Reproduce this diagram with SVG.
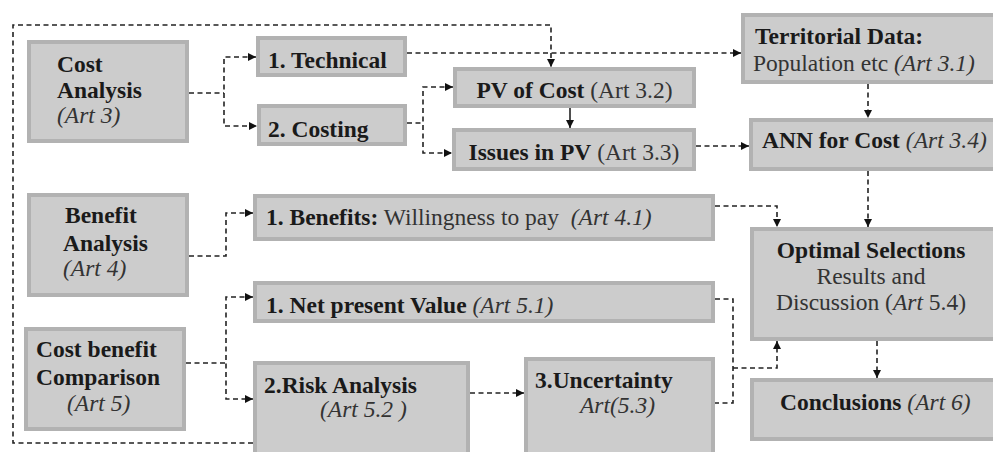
<svg xmlns="http://www.w3.org/2000/svg" width="993" height="452" viewBox="0 0 993 452">
<defs>
<marker id="ah" viewBox="0 0 10 10" refX="10" refY="5" markerWidth="9" markerHeight="8" markerUnits="userSpaceOnUse" orient="auto-start-reverse">
<path d="M0,0 L10,5 L0,10 z" fill="#111"/>
</marker>
<style>
.box{fill:#cccccc;stroke:#b2b2b2;stroke-width:4}
.c{fill:none;stroke:#222;stroke-width:1.6;stroke-dasharray:5,3.5}
.s{fill:none;stroke:#222;stroke-width:1.6}
text{font-family:"Liberation Serif","Times New Roman",serif;font-size:23.5px;fill:#1a1a1a}
.b{font-weight:bold}
.i{font-style:italic;fill:#333}
.r{fill:#333}
</style>
</defs>
<rect width="993" height="452" fill="#ffffff"/>
<g id="connectors">
<path class="c" d="M253,443 H13 V25 H551 V67" marker-end="url(#ah)"/>
<path class="c" d="M407,53 H741" marker-end="url(#ah)"/>
<path class="c" d="M189,93 H224"/>
<path class="c" d="M256,57 H224 V126 H257" marker-start="url(#ah)" marker-end="url(#ah)"/>
<path class="c" d="M407,123 H423"/>
<path class="c" d="M453,87 H423 V153 H452" marker-start="url(#ah)" marker-end="url(#ah)"/>
<path class="s" d="M570,108 V128" marker-end="url(#ah)"/>
<path class="c" d="M696,146 H749" marker-end="url(#ah)"/>
<path class="c" d="M868,84 V118" marker-end="url(#ah)"/>
<path class="c" d="M868,171 V227" marker-end="url(#ah)"/>
<path class="c" d="M715,206 H777 V227" marker-end="url(#ah)"/>
<path class="c" d="M189,256 H226 V213 H253" marker-end="url(#ah)"/>
<path class="c" d="M186,363 H226"/>
<path class="c" d="M253,297 H226 V399 H253" marker-start="url(#ah)" marker-end="url(#ah)"/>
<path class="c" d="M470,393 H524" marker-end="url(#ah)"/>
<path class="c" d="M715,299 H733 V403 H715"/>
<path class="c" d="M733,368 H777 V341" marker-end="url(#ah)"/>
<path class="c" d="M877,341 V378" marker-end="url(#ah)"/>
</g>
<g id="cost-analysis">
<rect class="box" x="29" y="42" width="158" height="99"/>
<text x="57" y="72" class="b">Cost</text>
<text x="57" y="98" class="b">Analysis</text>
<text x="57" y="123" class="i">(Art 3)</text>
</g>
<g id="technical">
<rect class="box" x="258" y="38" width="147" height="37"/>
<text x="268" y="68" class="b">1. Technical</text>
</g>
<g id="costing">
<rect class="box" x="259" y="106" width="146" height="38"/>
<text x="268" y="137" class="b">2. Costing</text>
</g>
<g id="pv-of-cost">
<rect class="box" x="455" y="69" width="239" height="37"/>
<text x="574.5" y="98" text-anchor="middle"><tspan class="b">PV of Cost</tspan><tspan class="r"> (Art 3.2)</tspan></text>
</g>
<g id="issues-in-pv">
<rect class="box" x="454" y="130" width="240" height="39"/>
<text x="574" y="160" text-anchor="middle"><tspan class="b">Issues in PV</tspan><tspan class="r"> (Art 3.3)</tspan></text>
</g>
<g id="territorial-data">
<rect class="box" x="743" y="15" width="252" height="67"/>
<text x="755" y="44" class="b">Territorial Data:</text>
<text x="753" y="71"><tspan class="r">Population etc </tspan><tspan class="i">(Art 3.1)</tspan></text>
</g>
<g id="ann-for-cost">
<rect class="box" x="751" y="120" width="244" height="49"/>
<text x="762" y="148"><tspan class="b">ANN for Cost </tspan><tspan class="i">(Art 3.4)</tspan></text>
</g>
<g id="benefit-analysis">
<rect class="box" x="29" y="195" width="158" height="100"/>
<text x="65" y="223" class="b">Benefit</text>
<text x="63" y="251" class="b">Analysis</text>
<text x="63" y="276" class="i">(Art 4)</text>
</g>
<g id="benefits">
<rect class="box" x="255" y="196" width="458" height="43"/>
<text x="266" y="225" xml:space="preserve"><tspan class="b">1. Benefits:</tspan><tspan class="r"> Willingness to pay  </tspan><tspan class="i">(Art 4.1)</tspan></text>
</g>
<g id="optimal-selections">
<rect class="box" x="752" y="229" width="243" height="110"/>
<text x="871" y="258" text-anchor="middle" class="b">Optimal Selections</text>
<text x="871" y="284" text-anchor="middle" class="r">Results and</text>
<text x="871" y="310" text-anchor="middle"><tspan class="r">Discussion (</tspan><tspan class="i">Art</tspan><tspan class="r"> 5.4)</tspan></text>
</g>
<g id="net-present-value">
<rect class="box" x="255" y="283" width="458" height="38"/>
<text x="266" y="313"><tspan class="b">1. Net present Value </tspan><tspan class="i">(Art 5.1)</tspan></text>
</g>
<g id="cost-benefit-comparison">
<rect class="box" x="26" y="329" width="158" height="100"/>
<text x="36" y="357" class="b">Cost benefit</text>
<text x="36" y="385" class="b">Comparison</text>
<text x="67" y="411" class="i">(Art 5)</text>
</g>
<g id="risk-analysis">
<rect class="box" x="255" y="363" width="213" height="100"/>
<text x="264" y="393" class="b">2.Risk Analysis</text>
<text x="320" y="417" class="i">(Art 5.2 )</text>
</g>
<g id="uncertainty">
<rect class="box" x="526" y="359" width="187" height="104"/>
<text x="535" y="388" class="b">3.Uncertainty</text>
<text x="580" y="413" class="i">Art(5.3)</text>
</g>
<g id="conclusions">
<rect class="box" x="752" y="380" width="243" height="59"/>
<text x="780" y="410"><tspan class="b">Conclusions </tspan><tspan class="i">(Art 6)</tspan></text>
</g>
</svg>
